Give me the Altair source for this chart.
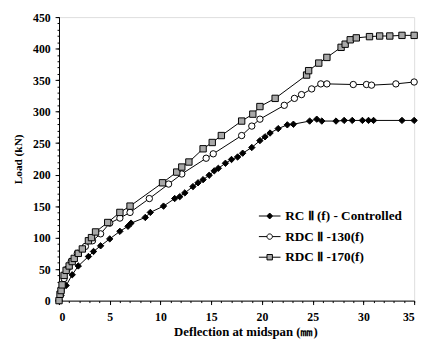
import altair as alt
import pandas as pd

series_names = ["RC Ⅱ (f) - Controlled", "RDC Ⅱ -130(f)", "RDC Ⅱ -170(f)"]

rc_x = [0, 0.2, 0.7, 1.3, 1.9, 2.9, 3.4, 4.1, 5.0, 6.0, 6.8, 7.1, 8.5, 9.0, 10.3, 11.4, 11.9, 12.4, 13.2, 13.7, 14.2, 14.8, 15.3, 15.7, 16.4, 17.0, 17.6, 18.1, 19.0, 19.8, 20.3, 20.8, 21.6, 22.5, 23.1, 24.7, 25.4, 25.9, 27.3, 28.1, 28.9, 29.9, 30.5, 31.0, 33.8, 35.0]
rc_y = [0, 8, 24, 41, 55, 70, 78, 87, 98, 110, 118, 123, 132, 140, 150, 162, 165, 171, 181, 187, 192, 199, 206, 210, 218, 224, 228, 234, 243, 254, 260, 266, 273, 279, 280, 285, 288, 285, 285, 286, 286, 286, 286, 286, 286, 286]

r130_x = [0, 0.2, 0.5, 0.8, 1.2, 1.8, 2.6, 3.3, 4.1, 5.0, 6.0, 7.0, 8.9, 10.8, 12.1, 14.5, 15.2, 18.0, 19.0, 19.8, 22.2, 23.2, 23.9, 24.9, 25.8, 26.4, 29.0, 30.3, 30.8, 33.2, 35.0]
r130_y = [0, 15, 35, 50, 62, 75, 86, 95, 106, 123, 131, 140, 162, 185, 201, 226, 233, 262, 277, 288, 310, 321, 327, 336, 344, 344, 343, 343, 342, 344, 347]

r170_x = [0, 0.1, 0.2, 0.3, 0.5, 0.7, 1.0, 1.3, 1.5, 1.9, 2.3, 2.9, 3.2, 3.6, 4.8, 6.0, 7.0, 10.2, 11.6, 12.1, 12.8, 14.2, 15.1, 16.0, 18.0, 19.1, 19.8, 21.3, 24.4, 24.6, 25.6, 26.4, 27.8, 28.2, 28.7, 29.3, 30.6, 31.6, 32.6, 33.8, 35.0]
r170_y = [0, 10, 16, 25, 40, 48, 55, 62, 67, 75, 82, 95, 100, 109, 124, 140, 150, 187, 204, 212, 220, 241, 251, 262, 285, 296, 308, 321, 358, 365, 377, 386, 402, 407, 414, 417, 419, 420, 420, 421, 421]

x_major = [0, 5, 10, 15, 20, 25, 30, 35]
y_major = [0, 50, 100, 150, 200, 250, 300, 350, 400, 450]
x_minor = list(range(0, 36))
y_minor = list(range(0, 451, 10))

rows = []
for name, xs, ys in zip(series_names, [rc_x, r130_x, r170_x], [rc_y, r130_y, r170_y]):
    for i, (a, b) in enumerate(zip(xs, ys)):
        rows.append({"series": name, "x": a, "y": b, "order": i})
df = pd.DataFrame(rows)

FONT = "Liberation Serif"

xscale = alt.Scale(domain=[0, 35], nice=False)
yscale = alt.Scale(domain=[0, 450], nice=False)

xenc = alt.X("x:Q", scale=xscale,
             axis=alt.Axis(values=x_major, title="Deflection at midspan (㎜)", grid=False,
                           orient="bottom",
                           tickSize=4, tickColor="black", domainColor="black",
                           labelFont=FONT, labelFontWeight="bold", labelFontSize=12,
                           labelColor="black", titleFont=FONT, titleFontWeight="bold",
                           titleFontSize=13, titleColor="black", titlePadding=4,
                           titleX=190, labelPadding=7))
yenc = alt.Y("y:Q", scale=yscale,
             axis=alt.Axis(values=y_major, title="Load (kN)", grid=False,
                           orient="left",
                           tickSize=4, tickColor="black", domainColor="black",
                           labelFont=FONT, labelFontWeight="bold", labelFontSize=12,
                           labelColor="black", titleFont=FONT, titleFontWeight="bold",
                           titleFontSize=11.5, titleColor="black", titlePadding=9,
                           labelPadding=5))

shape_scale = alt.Scale(domain=series_names, range=["diamond", "circle", "square"])
fill_scale = alt.Scale(domain=series_names, range=["black", "white", "#a8a8a8"])
stroke_scale = alt.Scale(domain=series_names, range=["black", "black", "black"])

base = alt.Chart(df)

lines = base.mark_line(color="black", strokeWidth=1).encode(
    x=xenc, y=yenc, detail="series:N", order="order:Q")

points = base.mark_point(filled=True, strokeWidth=1, size=42, opacity=1).encode(
    x=alt.X("x:Q", scale=xscale, axis=None),
    y=alt.Y("y:Q", scale=yscale, axis=None),
    shape=alt.Shape("series:N", scale=shape_scale, legend=None),
    fill=alt.Fill("series:N", scale=fill_scale, legend=None),
    stroke=alt.Stroke("series:N", scale=stroke_scale, legend=None),
)

# legend symbols: a line through the marker
leg_paths = [
    "M-2,0L-0.55,0M0.55,0L2,0M0,-0.55L0.55,0L0,0.55L-0.55,0Z",
    "M-2,0L-0.5,0M0.5,0L2,0M-0.5,0A0.5,0.5,0,1,0,0.5,0A0.5,0.5,0,1,0,-0.5,0Z",
    "M-2,0L-0.5,0M0.5,0L2,0M-0.5,-0.5L0.5,-0.5L0.5,0.5L-0.5,0.5Z",
]
leg_shape_scale = alt.Scale(domain=series_names, range=leg_paths)

leg_props = dict(title=None, orient="none", legendX=208, legendY=196,
                 symbolSize=121, symbolOpacity=1, symbolStrokeWidth=1,
                 labelFont=FONT, labelFontWeight="bold",
                 labelFontSize=13.5, labelColor="black", labelOffset=9,
                 rowPadding=6, labelLimit=300)

legend_layer = base.mark_point(filled=True, strokeWidth=1, opacity=0).encode(
    x=alt.X("x:Q", scale=xscale, axis=None),
    y=alt.Y("y:Q", scale=yscale, axis=None),
    fill=alt.Fill("series:N", scale=fill_scale, legend=alt.Legend(**leg_props)),
    stroke=alt.Stroke("series:N", scale=stroke_scale, legend=alt.Legend(**leg_props)),
    shape=alt.Shape("series:N", scale=leg_shape_scale, legend=alt.Legend(**leg_props)),
)

minor = alt.Chart(pd.DataFrame({"x": [0], "y": [0]})).mark_point(opacity=0).encode(
    x=alt.X("x:Q", scale=xscale, axis=alt.Axis(values=x_minor, labels=False, title=None,
                                                orient="bottom",
                                                domain=False, grid=False, tickSize=2,
                                                tickColor="black")),
    y=alt.Y("y:Q", scale=yscale, axis=alt.Axis(values=y_minor, labels=False, title=None,
                                                orient="left",
                                                domain=False, grid=False, tickSize=2,
                                                tickColor="black")),
)

chart = alt.layer(lines, points, legend_layer, minor).resolve_scale(
    shape="independent", fill="independent", stroke="independent"
).resolve_axis(x="independent", y="independent").properties(
    width=362, height=289,
    autosize=alt.AutoSizeParams(type="none"),
    padding={"left": 52, "top": 6, "right": 8, "bottom": 44},
).configure_view(stroke="black", strokeWidth=1).configure(background="white")

chart.save("out.html", embed_options={"renderer": "svg", "actions": False})
